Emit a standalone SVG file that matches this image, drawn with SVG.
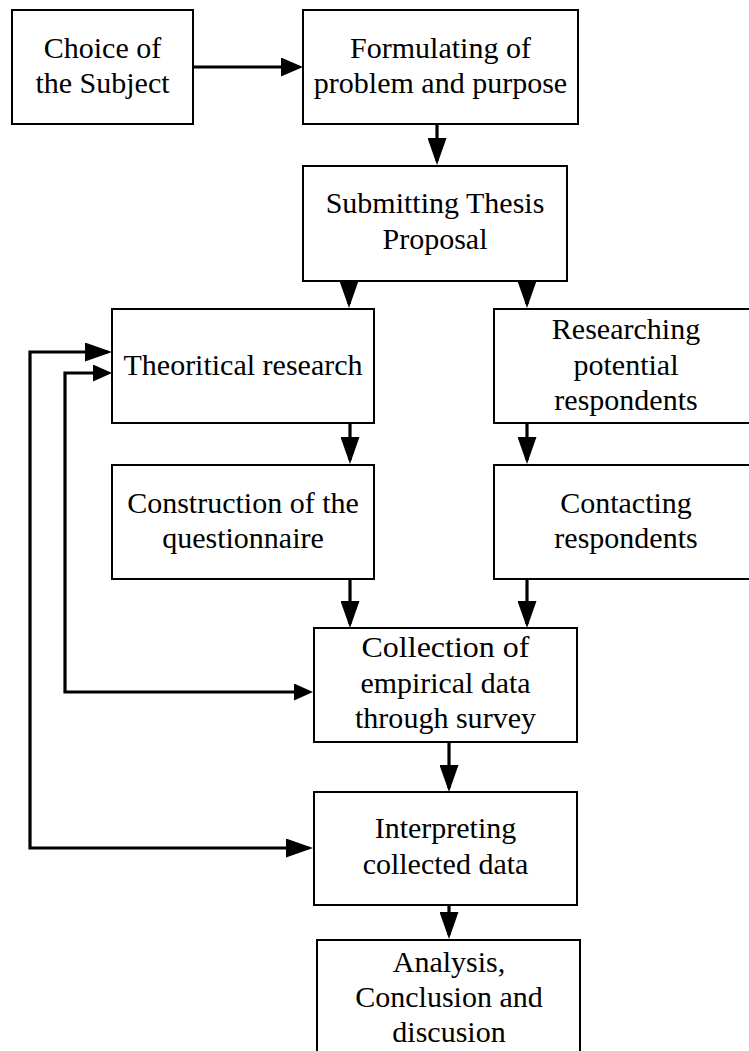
<svg xmlns="http://www.w3.org/2000/svg" width="749" height="1051" viewBox="0 0 749 1051">
<style>
.box{fill:#fff;stroke:#000;stroke-width:2}
.t{font-family:"Liberation Serif","Times New Roman",serif;font-size:30px;fill:#000;text-anchor:middle}
.c{fill:none;stroke:#000;stroke-width:3.2}
</style>
<defs>
<marker id="ah" markerUnits="userSpaceOnUse" markerWidth="27" markerHeight="19" viewBox="0 0 27 19" refX="23" refY="9.5" orient="auto-start-reverse">
<path d="M0,0 L27,9.5 L0,19 Z" fill="#000"/>
</marker>
<marker id="ahs" markerUnits="userSpaceOnUse" markerWidth="19" markerHeight="17" viewBox="0 0 19 17" refX="15" refY="8.5" orient="auto-start-reverse">
<path d="M0,0 L19,8.5 L0,17 Z" fill="#000"/>
</marker>
<marker id="ahm" markerUnits="userSpaceOnUse" markerWidth="22" markerHeight="19" viewBox="0 0 22 19" refX="18" refY="9.5" orient="auto">
<path d="M0,0 L22,9.5 L0,19 Z" fill="#000"/>
</marker>
</defs>
<rect width="749" height="1051" fill="#fff"/>
<g id="connectors">
<line class="c" x1="193" y1="67" x2="299" y2="67" marker-end="url(#ahm)"/>
<line class="c" x1="437" y1="124" x2="437" y2="161" marker-end="url(#ah)"/>
<line class="c" x1="349" y1="281" x2="349" y2="304" marker-end="url(#ah)"/>
<line class="c" x1="527" y1="281" x2="527" y2="304" marker-end="url(#ah)"/>
<line class="c" x1="350" y1="423" x2="350" y2="460" marker-end="url(#ah)"/>
<line class="c" x1="527" y1="423" x2="527" y2="460" marker-end="url(#ah)"/>
<line class="c" x1="350" y1="579" x2="350" y2="624" marker-end="url(#ah)"/>
<line class="c" x1="527" y1="579" x2="527" y2="624" marker-end="url(#ah)"/>
<line class="c" x1="449" y1="742" x2="449" y2="788" marker-end="url(#ah)"/>
<line class="c" x1="449" y1="905" x2="449" y2="935" marker-end="url(#ah)"/>
<polyline class="c" points="108,352 30,352 30,848 309,848" marker-start="url(#ah)" marker-end="url(#ah)"/>
<polyline class="c" points="108,373 65,373 65,692 309,692" marker-start="url(#ahs)" marker-end="url(#ahs)"/>
</g>
<g id="n1"><rect class="box" x="12" y="10" width="181" height="114"/><text class="t" x="102.5" y="58">Choice of</text><text class="t" x="102.5" y="93">the Subject</text></g>
<g id="n2"><rect class="box" x="303" y="10" width="275" height="114"/><text class="t" x="440.5" y="58">Formulating of</text><text class="t" x="440.5" y="93">problem and purpose</text></g>
<g id="n3"><rect class="box" x="303" y="166" width="264" height="115"/><text class="t" x="435" y="213">Submitting Thesis</text><text class="t" x="435" y="249">Proposal</text></g>
<g id="n4"><rect class="box" x="112" y="309" width="262" height="114"/><text class="t" x="243" y="375">Theoritical research</text></g>
<g id="n5"><rect class="box" x="494" y="309" width="300" height="114"/><text class="t" x="626" y="339">Researching</text><text class="t" x="626" y="375">potential</text><text class="t" x="626" y="410">respondents</text></g>
<g id="n6"><rect class="box" x="112" y="465" width="262" height="114"/><text class="t" x="243" y="513">Construction of the</text><text class="t" x="243" y="548">questionnaire</text></g>
<g id="n7"><rect class="box" x="494" y="465" width="300" height="114"/><text class="t" x="626" y="513">Contacting</text><text class="t" x="626" y="548">respondents</text></g>
<g id="n8"><rect class="box" x="314" y="628" width="263" height="114"/><text class="t" x="445.5" y="657" textLength="168" lengthAdjust="spacingAndGlyphs">Collection of</text><text class="t" x="445.5" y="693" textLength="170" lengthAdjust="spacingAndGlyphs">empirical data</text><text class="t" x="445.5" y="728" textLength="181" lengthAdjust="spacingAndGlyphs">through survey</text></g>
<g id="n9"><rect class="box" x="314" y="792" width="263" height="113"/><text class="t" x="445.5" y="838">Interpreting</text><text class="t" x="445.5" y="874">collected data</text></g>
<g id="n10"><rect class="box" x="317" y="940" width="263" height="130"/><text class="t" x="449" y="972">Analysis,</text><text class="t" x="449" y="1007">Conclusion and</text><text class="t" x="449" y="1042">discusion</text></g>
</svg>
